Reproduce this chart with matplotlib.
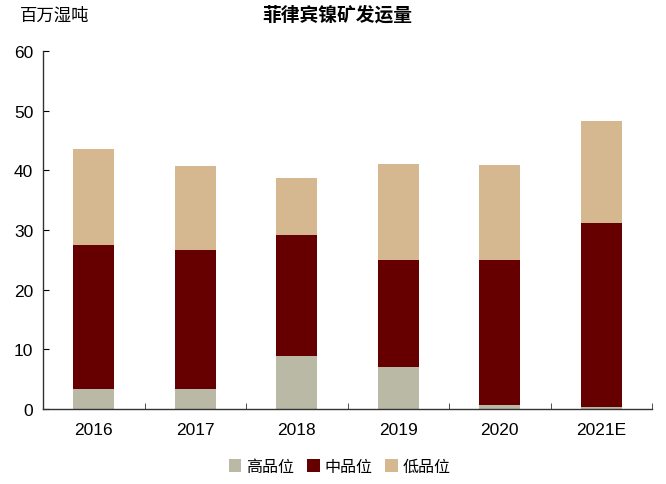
import matplotlib
matplotlib.use("Agg")
import matplotlib.pyplot as plt
import numpy as np

plt.rcParams['font.family'] = ['Noto Sans CJK SC', 'DejaVu Sans']

years = ["2016", "2017", "2018", "2019", "2020", "2021E"]
high = [3.3, 3.4, 8.8, 7.1, 0.7, 0.3]
mid_top = [27.5, 26.7, 29.2, 25.0, 24.9, 31.2]
total = [43.6, 40.7, 38.7, 41.0, 40.9, 48.2]
mid = [m - h for m, h in zip(mid_top, high)]
low = [t - m for t, m in zip(total, mid_top)]

c_high = "#B9B9A5"
c_mid = "#660000"
c_low = "#D6B890"

fig = plt.figure(figsize=(6.66, 4.85), dpi=100)
ax = fig.add_axes([0.0646, 0.1546, 0.9144, 0.7384])

x = np.arange(len(years))
ax.bar(x, high, width=0.4, color=c_high, label="高品位")
ax.bar(x, mid, width=0.4, bottom=high, color=c_mid, label="中品位")
ax.bar(x, low, width=0.4, bottom=mid_top, color=c_low, label="低品位")

ax.set_xlim(-0.5, len(years) - 0.5)
ax.set_ylim(0, 60)
ax.set_yticks(range(0, 61, 10))
ax.set_xticks(x)
ax.set_xticklabels(years)
ax.set_xticks(np.arange(-0.5, len(years), 1.0), minor=True)
ax.tick_params(axis='x', which='major', length=0, pad=9, labelsize=12.5)
ax.tick_params(axis='x', which='minor', length=4, direction='in', color='#333333')
ax.tick_params(axis='y', length=4, direction='in', labelsize=12.5, pad=7)
for lbl in ax.get_xticklabels() + ax.get_yticklabels():
    lbl.set_fontfamily(['Liberation Sans', 'DejaVu Sans'])
for s in ['top', 'right']:
    ax.spines[s].set_visible(False)
for s in ['left', 'bottom']:
    ax.spines[s].set_color('#333333')
    ax.spines[s].set_linewidth(1.0)

fig.text(0.506, 0.968, "菲律宾镍矿发运量", ha='center', va='center', fontsize=13.5, fontweight='bold')
fig.text(0.030, 0.968, "百万湿吨", ha='left', va='center', fontsize=12.5)

fig.legend(loc='center', bbox_to_anchor=(0.51, 0.036), ncol=3, frameon=False,
           fontsize=11.5, handlelength=0.8, handleheight=0.8, handletextpad=0.3,
           columnspacing=0.8)

fig.savefig("out.png", dpi=100)
